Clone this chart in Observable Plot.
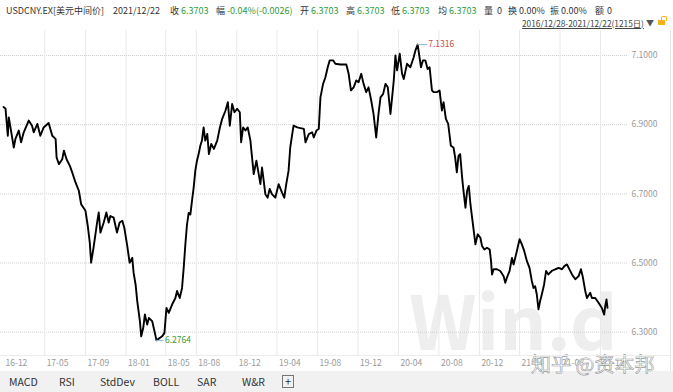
<!DOCTYPE html>
<html><head><meta charset="utf-8">
<script src="https://cdn.jsdelivr.net/npm/d3@7"></script>
<script src="https://cdn.jsdelivr.net/npm/@observablehq/plot@0.6"></script>
<style>
body{margin:0;background:#fff;font-family:"Noto Sans CJK SC","Noto Sans",sans-serif;}
#wrap{position:relative;width:673px;height:392px;overflow:hidden;background:#fff;}
.t{position:absolute;white-space:nowrap;font-size:9px;color:#333;line-height:12px;}
.g{color:#2f9a3c;}
#chart{position:absolute;left:0;top:30px;}
#tabs{position:absolute;left:0;top:371px;width:673px;height:21px;background:#f1f1f1;}
.tab{position:absolute;top:4px;font-size:10.5px;color:#333;line-height:13px;white-space:nowrap;}
#zh{position:absolute;left:531px;top:352px;font-size:20px;line-height:24px;color:rgba(255,255,255,0.9);-webkit-text-stroke:0.6px #9a9a9a;white-space:nowrap;}
</style></head><body>
<div id="wrap">
  <div id="header"></div>
  <div id="chart"></div>
  <div id="tabs"></div>
  <div id="zh"></div>
</div>
<script>
// ---- data ----
const dates = [
"2016-12-28","2017-01-03","2017-01-10","2017-01-13","2017-01-18","2017-01-28","2017-02-02","2017-02-12","2017-02-19","2017-02-27",
"2017-03-14","2017-03-24","2017-03-29","2017-04-09","2017-04-18","2017-04-28","2017-05-13","2017-05-24","2017-06-03","2017-06-06",
"2017-06-13","2017-06-23","2017-06-28","2017-07-06","2017-07-16","2017-07-23","2017-08-02","2017-08-12","2017-08-19","2017-09-01",
"2017-09-08","2017-09-14","2017-09-18","2017-09-26","2017-10-06","2017-10-11","2017-10-16","2017-10-26","2017-11-03","2017-11-10",
"2017-11-15","2017-11-25","2017-12-05","2017-12-13","2017-12-21","2017-12-27","2018-01-05","2018-01-12","2018-01-20","2018-01-24",
"2018-01-30","2018-02-04","2018-02-12","2018-02-16","2018-02-22","2018-02-27","2018-03-06","2018-03-11","2018-03-21","2018-03-28",
"2018-04-03","2018-04-20","2018-04-27","2018-05-03","2018-05-10","2018-05-20","2018-05-30","2018-06-04","2018-06-12","2018-06-19",
"2018-06-24","2018-06-29","2018-07-04","2018-07-09","2018-07-14","2018-07-19","2018-07-24","2018-07-29","2018-08-03","2018-08-08",
"2018-08-13","2018-08-18","2018-08-23","2018-08-28","2018-09-03","2018-09-08","2018-09-15","2018-09-23","2018-10-03","2018-10-11",
"2018-10-18","2018-10-28","2018-11-04","2018-11-10","2018-11-17","2018-11-24","2018-12-02","2018-12-10","2018-12-14","2018-12-20",
"2018-12-27","2019-01-03","2019-01-11","2019-01-16","2019-01-21","2019-01-29","2019-02-05","2019-02-10","2019-02-15","2019-02-20",
"2019-02-25","2019-03-04","2019-03-10","2019-03-17","2019-03-27","2019-04-06","2019-04-16","2019-04-23","2019-04-29","2019-05-06",
"2019-05-11","2019-05-17","2019-05-21","2019-06-01","2019-06-11","2019-06-21","2019-06-26","2019-07-06","2019-07-16","2019-07-21",
"2019-07-29","2019-08-05","2019-08-10","2019-08-18","2019-08-25","2019-09-01","2019-09-07","2019-09-17","2019-09-24","2019-10-09",
"2019-10-27","2019-11-03","2019-11-10","2019-11-18","2019-11-26","2019-12-03","2019-12-11","2019-12-18","2019-12-26","2020-01-02",
"2020-01-10","2020-01-17","2020-01-25","2020-02-01","2020-02-07","2020-02-15","2020-02-22","2020-02-29","2020-03-08","2020-03-13",
"2020-03-18","2020-03-23","2020-03-28","2020-04-05","2020-04-12","2020-04-17","2020-04-27","2020-05-07","2020-05-17","2020-05-22",
"2020-05-29","2020-06-08","2020-06-14","2020-06-21","2020-06-28","2020-07-04","2020-07-11","2020-07-16","2020-07-26","2020-08-03",
"2020-08-10","2020-08-15","2020-08-22","2020-08-29","2020-09-06","2020-09-14","2020-09-19","2020-09-24","2020-09-29","2020-10-04",
"2020-10-10","2020-10-13","2020-10-20","2020-10-25","2020-10-30","2020-11-04","2020-11-09","2020-11-14","2020-11-19","2020-11-26",
"2020-12-04","2020-12-09","2020-12-16","2020-12-24","2021-01-01","2021-01-05","2021-01-08","2021-01-13","2021-01-23","2021-02-02",
"2021-02-12","2021-02-17","2021-02-22","2021-03-02","2021-03-09","2021-03-14","2021-03-19","2021-03-24","2021-04-01","2021-04-08",
"2021-04-15","2021-04-23","2021-05-01","2021-05-08","2021-05-13","2021-05-18","2021-05-23","2021-05-28","2021-06-02","2021-06-07",
"2021-06-14","2021-06-20","2021-06-27","2021-07-07","2021-07-18","2021-07-28","2021-08-07","2021-08-14","2021-08-22","2021-08-27",
"2021-09-06","2021-09-16","2021-09-26","2021-10-03","2021-10-09","2021-10-16","2021-10-21","2021-10-31","2021-11-05","2021-11-15",
"2021-11-25","2021-12-05","2021-12-12","2021-12-15","2021-12-19","2021-12-22"
];
const values = [
6.951,6.947,6.868,6.921,6.892,6.834,6.859,6.883,6.849,6.878,
6.912,6.897,6.878,6.902,6.868,6.892,6.905,6.868,6.859,6.805,
6.786,6.800,6.825,6.800,6.781,6.762,6.733,6.709,6.670,6.651,
6.607,6.559,6.501,6.549,6.617,6.646,6.588,6.617,6.646,6.617,
6.636,6.631,6.588,6.617,6.622,6.602,6.549,6.501,6.515,6.472,
6.438,6.390,6.332,6.288,6.312,6.351,6.322,6.341,6.332,6.303,
6.2764,6.288,6.298,6.370,6.356,6.380,6.399,6.419,6.399,6.428,
6.486,6.554,6.612,6.645,6.640,6.680,6.718,6.767,6.796,6.815,
6.839,6.854,6.892,6.854,6.873,6.815,6.844,6.830,6.854,6.892,
6.917,6.941,6.965,6.897,6.960,6.936,6.946,6.936,6.849,6.892,
6.883,6.892,6.854,6.805,6.757,6.796,6.757,6.728,6.776,6.738,
6.699,6.689,6.714,6.699,6.689,6.728,6.704,6.689,6.728,6.767,
6.834,6.873,6.897,6.892,6.890,6.888,6.849,6.873,6.878,6.863,
6.883,6.888,6.979,7.018,7.037,7.066,7.086,7.086,7.076,7.074,
7.074,7.047,6.999,7.008,7.028,7.023,7.047,7.018,6.994,7.008,
6.970,6.931,6.863,6.931,6.979,6.989,7.018,7.008,6.931,6.979,
7.028,7.100,7.057,7.105,7.047,7.032,7.076,7.066,7.095,7.114,
7.1316,7.066,7.086,7.086,7.061,7.066,6.999,6.994,6.994,6.999,
6.941,6.965,6.917,6.902,6.839,6.834,6.805,6.762,6.810,6.815,
6.747,6.718,6.660,6.709,6.723,6.670,6.631,6.593,6.554,6.583,
6.573,6.549,6.539,6.544,6.539,6.506,6.467,6.482,6.482,6.477,
6.462,6.443,6.458,6.477,6.515,6.496,6.515,6.535,6.569,6.554,
6.535,6.506,6.486,6.448,6.428,6.433,6.409,6.366,6.390,6.409,
6.438,6.477,6.467,6.477,6.482,6.486,6.482,6.491,6.496,6.486,
6.467,6.453,6.462,6.482,6.458,6.419,6.399,6.414,6.399,6.399,
6.385,6.370,6.351,6.375,6.395,6.3703
];
const xTickDates = ["2016-12-28","2017-05-01","2017-09-01","2018-01-01","2018-05-01","2018-08-01","2018-12-01","2019-04-01","2019-08-01","2019-12-01","2020-04-01","2020-08-01","2020-12-01","2021-04-01","2021-08-01","2021-12-01"];
const xTickLabels = ["16-12","17-05","17-09","18-01","18-05","18-08","18-12","19-04","19-08","19-12","20-04","20-08","20-12","21-04","21-08","21-12"];
const yTickValues = [7.1, 6.9, 6.7, 6.5, 6.3];
const yTickLabels = ["7.1000","6.9000","6.7000","6.5000","6.3000"];

const titleText = "USDCNY.EX[美元中间价]";
const dateText = "2021/12/22";
const fieldNames = ["收","幅","开","高","低","均","量","换","振","额"];
const fieldValues = ["6.3703","-0.04%(-0.0026)","6.3703","6.3703","6.3703","6.3703","0","0.00%","0.00%","0"];
const rangeText = "2016/12/28-2021/12/22(1215日)";
const tabNames = ["MACD","RSI","StdDev","BOLL","SAR","W&R"];
const watermark = "知乎 @资本邦";

// ---- header (layout) ----
const header = document.getElementById("header");
function addT(parent, txt, x, y, cls, extra){
  const s = document.createElement("span");
  s.className = "t " + (cls||"");
  s.textContent = txt;
  s.style.left = x + "px"; s.style.top = y + "px";
  if (extra) Object.assign(s.style, extra);
  parent.appendChild(s);
  return s;
}
addT(header, titleText, 6, 5);
addT(header, dateText, 113, 5);
const nameX = [170, 216, 300, 346, 391, 438, 484, 508, 550, 595];
const valX  = [181, 227, 311, 357, 402, 449, 497, 519, 561, 607];
const greenIdx = new Set([0,1,2,3,4,5]);
fieldNames.forEach((n,i)=>{
  addT(header, n, nameX[i], 5);
  addT(header, fieldValues[i], valX[i], 5, greenIdx.has(i) ? "g" : "");
});
addT(header, rangeText, 522, 17, "", {fontSize:"8.3px", textDecoration:"underline", color:"#444"});
addT(header, "▼", 646, 17, "", {fontSize:"8px", color:"#555"});
const lock = document.createElement("div");
Object.assign(lock.style,{position:"absolute",left:"658px",top:"20px",width:"7px",height:"5px",background:"#f2b21c"});
header.appendChild(lock);
const shack = document.createElement("div");
Object.assign(shack.style,{position:"absolute",left:"661px",top:"16px",width:"4px",height:"4px",border:"1px solid #f2b21c",borderBottom:"none",borderRadius:"2px 2px 0 0"});
header.appendChild(shack);

// ---- chart ----
const data = dates.map((d,i)=>({date:new Date(d), value:values[i]}));
const maxPt = d3.greatest(data, d=>d.value);
const minPt = d3.least(data, d=>d.value);
const gridDates = xTickDates.slice(1).map(d=>new Date(d));
const ticks = xTickDates.map((d,i)=>({date:new Date(d), label:xTickLabels[i]}));
const yt = yTickValues.map((v,i)=>({v, label:yTickLabels[i]}));

const H = 340, MB = 38.3, MT = 25;
const chart = Plot.plot({
  width: 673, height: H,
  marginLeft: 3, marginRight: 66, marginTop: MT, marginBottom: MB,
  x: {type:"utc", domain:[data[0].date, data[data.length-1].date], axis:null},
  y: {domain:[6.3, 7.1], axis:null},
  style: {fontFamily:'"Noto Sans CJK SC","Noto Sans",sans-serif', background:"transparent", overflow:"visible"},
  marks: [
    Plot.text(["Win.d"], {frameAnchor:"bottom-right", textAnchor:"end", lineAnchor:"bottom", dx:10, dy:18, fontSize:74, fontWeight:"bold", fill:"#eeeeee"}),
    Plot.ruleY(yt, {y:"v", stroke:"#cfcfcf", strokeDasharray:"1,1", insetLeft:-3, insetRight:-20}),
    Plot.ruleX(gridDates, {x:d=>d, stroke:"#e9e9e9", insetTop:-MT, insetBottom:-23.3}),
    Plot.text(ticks, {x:"date", text:"label", frameAnchor:"bottom", dy:33.5, dx:2, textAnchor:"start", fill:"#9a9a9a", fontSize:8.5}),
    Plot.text(yt, {y:"v", text:"label", frameAnchor:"right", dx:24, textAnchor:"start", fill:"#9a9a9a", fontSize:8.5}),
    Plot.line(data, {x:"date", y:"value", stroke:"#000", strokeWidth:1.9}),
    Plot.ruleY([maxPt], {y:"value", x1:"date", x2:d=>d3.utcDay.offset(d.date, 30), stroke:"#8fb8d8"}),
    Plot.text([maxPt], {x:"date", y:"value", text:d=>d.value.toFixed(4), dx:10.5, textAnchor:"start", fill:"#cc4a4a", fontSize:8.5}),
    Plot.ruleY([minPt], {y:"value", x1:"date", x2:d=>d3.utcDay.offset(d.date, 24), stroke:"#8fb8d8"}),
    Plot.text([minPt], {x:"date", y:"value", text:d=>d.value.toFixed(4), dx:8.5, textAnchor:"start", fill:"#3a9a3a", fontSize:8.5})
  ]
});
document.getElementById("chart").appendChild(chart);

// structural lines
const wrap = document.getElementById("wrap");
const bl = document.createElement("div");
Object.assign(bl.style,{position:"absolute",left:"0",top:"355px",width:"670px",height:"1px",background:"#ececec"});
wrap.appendChild(bl);
const rl = document.createElement("div");
Object.assign(rl.style,{position:"absolute",left:"670px",top:"30px",width:"1px",height:"341px",background:"#e6e6e6"});
wrap.appendChild(rl);

// ---- tabs ----
const tabsEl = document.getElementById("tabs");
const tabX = [9, 59, 100, 153, 197, 242];
tabNames.forEach((n,i)=>{
  const s = document.createElement("span");
  s.className = "tab"; s.textContent = n; s.style.left = tabX[i] + "px";
  tabsEl.appendChild(s);
});
const plus = document.createElement("span");
plus.className = "tab"; plus.textContent = "+";
Object.assign(plus.style,{left:"282px",top:"4px",width:"10px",height:"11px",border:"1px solid #777",lineHeight:"10px",textAlign:"center",fontSize:"11px"});
tabsEl.appendChild(plus);

document.getElementById("zh").textContent = watermark;
</script>
</body></html>
